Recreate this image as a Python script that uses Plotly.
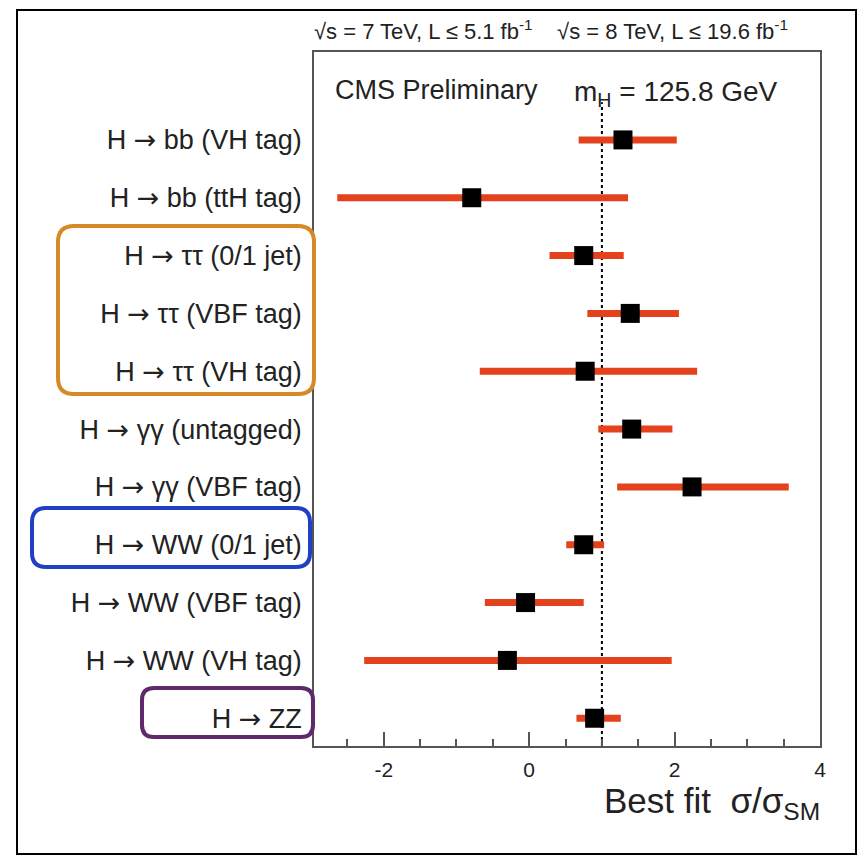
import plotly.graph_objects as go

# ---- data (top to bottom) ----
channels = [
    "H → bb (VH tag)", "H → bb (ttH tag)", "H → ττ (0/1 jet)", "H → ττ (VBF tag)",
    "H → ττ (VH tag)", "H → γγ (untagged)", "H → γγ (VBF tag)", "H → WW (0/1 jet)",
    "H → WW (VBF tag)", "H → WW (VH tag)", "H → ZZ",
]
best_fit = [1.29, -0.79, 0.75, 1.39, 0.77, 1.41, 2.24, 0.75, -0.05, -0.30, 0.90]
lower    = [0.68, -2.64, 0.28, 0.80, -0.68, 0.95, 1.21, 0.51, -0.61, -2.27, 0.65]
upper    = [2.03, 1.36, 1.30, 2.06, 2.31, 1.97, 3.57, 1.03, 0.75, 1.96, 1.26]
x_ticks = [-2, 0, 2, 4]
sm_value = 1.0

n = len(channels)
ypos = list(range(n, 0, -1))
err_plus = [u - v for u, v in zip(upper, best_fit)]
err_minus = [v - l for v, l in zip(best_fit, lower)]
ticktext = [c.replace("→", "<span style='font-family:DejaVu Sans'>→</span>") for c in channels]

FONT = "Liberation Sans, Arial, sans-serif"
W_FIG, H_FIG = 859, 856
L, R, T, B = 314, 39, 52, 110
PW, PH = W_FIG - L - R, H_FIG - T - B

def px(x, y):
    return f"{(x - L) / PW:.5f},{(H_FIG - B - y) / PH:.5f}"

def rounded(x0, y0, x1, y1, r):
    return (f"M{px(x0 + r, y0)} L{px(x1 - r, y0)} Q{px(x1, y0)} {px(x1, y0 + r)} "
            f"L{px(x1, y1 - r)} Q{px(x1, y1)} {px(x1 - r, y1)} L{px(x0 + r, y1)} "
            f"Q{px(x0, y1)} {px(x0, y1 - r)} L{px(x0, y0 + r)} Q{px(x0, y0)} {px(x0 + r, y0)} Z")

fig = go.Figure()
fig.add_trace(go.Scatter(
    x=best_fit, y=ypos, mode="markers",
    marker=dict(symbol="square", size=19, color="black"),
    error_x=dict(type="data", symmetric=False, array=err_plus, arrayminus=err_minus,
                 color="#e4421d", thickness=7, width=0),
    showlegend=False, cliponaxis=False,
))

shapes = [
    dict(type="line", xref="x", yref="y", x0=sm_value, x1=sm_value, y0=0.52, y1=11.65,
         line=dict(color="black", width=2, dash="dot"), layer="below"),
    # outer frame
    dict(type="path", xref="paper", yref="paper",
         path=f"M{px(17, 10)} L{px(856, 10)} L{px(856, 854)} L{px(17, 854)} Z",
         line=dict(color="black", width=2)),
    # highlight boxes
    dict(type="path", xref="paper", yref="paper", path=rounded(58, 226, 314, 394, 16),
         line=dict(color="#d58a26", width=4)),
    dict(type="path", xref="paper", yref="paper", path=rounded(32, 508, 310, 567, 14),
         line=dict(color="#1f3fc4", width=4)),
    dict(type="path", xref="paper", yref="paper", path=rounded(142, 688, 313, 737, 12),
         line=dict(color="#5e2a6c", width=4)),
]

annotations = [
    dict(text="√s = 7 TeV, L ≤ 5.1 fb<sup>-1</sup>    √s = 8 TeV, L ≤ 19.6 fb<sup>-1</sup>",
         xref="paper", yref="paper", x=(312 - L) / PW, y=(H_FIG - B - 30) / PH,
         xanchor="left", yanchor="middle", showarrow=False,
         font=dict(family=FONT, size=22, color="#222")),
    dict(text="CMS Preliminary", xref="paper", yref="paper", x=(333 - L) / PW,
         y=(H_FIG - B - 90) / PH, xanchor="left", yanchor="middle", showarrow=False,
         font=dict(family=FONT, size=27, color="#222")),
    dict(text="m<sub>H</sub> = 125.8 GeV", xref="paper", yref="paper", x=(572 - L) / PW,
         y=(H_FIG - B - 93) / PH, xanchor="left", yanchor="middle", showarrow=False,
         font=dict(family=FONT, size=28, color="#222")),
    dict(text="Best fit  σ/σ<sub>SM</sub>", xref="paper", yref="paper", x=(822 - L) / PW,
         y=(H_FIG - B - 803) / PH, xanchor="right", yanchor="middle", showarrow=False,
         font=dict(family=FONT, size=35, color="#222")),
]

fig.update_layout(
    width=W_FIG, height=H_FIG,
    margin=dict(l=L, r=R, t=T, b=B),
    paper_bgcolor="white", plot_bgcolor="white",
    shapes=shapes, annotations=annotations,
    xaxis=dict(range=[-2.96, 4], tickvals=x_ticks, ticktext=[str(v) for v in x_ticks],
               ticks="inside", ticklen=14, tickwidth=1.5, tickcolor="#555",
               minor=dict(dtick=0.5, tick0=0, ticks="inside", ticklen=7, tickcolor="#555", tickwidth=1.5),
               showgrid=False, zeroline=False, showline=True, linecolor="#555", linewidth=1.5,
               mirror=True, ticklabelstandoff=4, tickfont=dict(family=FONT, size=21, color="#222")),
    yaxis=dict(range=[0.52, 12.52], tickvals=ypos, ticktext=ticktext, ticks="",
               showgrid=False, zeroline=False, showline=True, linecolor="#555", linewidth=1.5,
               mirror=True, ticklabelstandoff=5, tickfont=dict(family=FONT, size=27, color="#222")),
)

fig.write_html("out.html", config={"displayModeBar": False},
               post_script="document.body.style.margin='0px';")
